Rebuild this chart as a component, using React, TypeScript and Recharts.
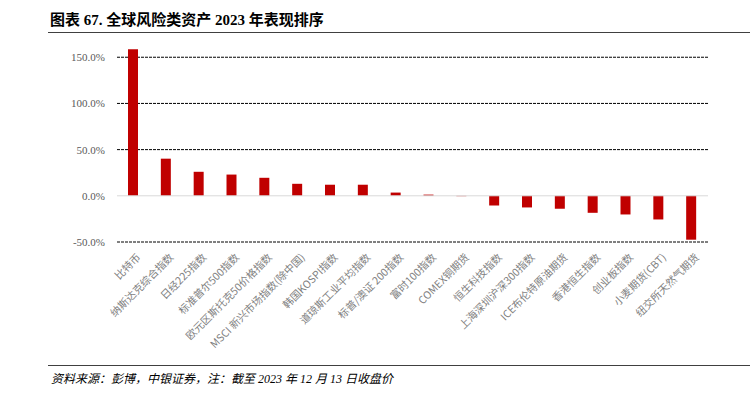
import React from 'react';
import {
  BarChart,
  Bar,
  XAxis,
  YAxis,
  CartesianGrid,
  ReferenceLine
} from 'recharts';

// Asset names (x axis)
const assets = [
  '比特币',
  '纳斯达克综合指数',
  '日经225指数',
  '标准普尔500指数',
  '欧元区斯托克50价格指数',
  'MSCI 新兴市场指数(除中国)',
  '韩国KOSPI指数',
  '道琼斯工业平均指数',
  '标普/澳证 200指数',
  '富时100指数',
  'COMEX铜期货',
  '恒生科技指数',
  '上海深圳沪深300指数',
  'ICE布伦特原油期货',
  '香港恒生指数',
  '创业板指数',
  '小麦期货(CBT)',
  '纽交所天然气期货'
];

// 2023 return, %
const returns2023 = [
  158.7, 40.2, 26.0, 23.0, 19.5, 13.0, 12.0, 12.0, 3.5, 1.3, -0.4,
  -10.5, -12.6, -14.0, -18.4, -20.2, -25.6, -47.5
];

const yTicks = [-50, 0, 50, 100, 150];
const gridValues = [-50, 50, 100, 150];

const chartData = assets.map((name, i) => ({ name, value: returns2023[i] }));

const CJK = "'Noto Sans CJK SC', sans-serif";
const SERIF = "'Liberation Serif', 'Noto Sans CJK SC', serif";

/**
 * Rotated category label
 */
const AssetTick: React.FC<any> = ({ x, y, payload }) => (
  <g transform={`translate(${x + 8},${y + 8})`}>
    <text
      x={0}
      y={0}
      textAnchor="end"
      transform="rotate(-45)"
      fontSize={10.5}
      fontFamily={CJK}
      fill="#7f7f7f"
    >
      {payload.value}
    </text>
  </g>
);

const App: React.FC = () => {
  return (
    <div
      style={{
        position: 'absolute',
        left: 0,
        top: 0,
        width: 750,
        height: 403,
        background: '#fff',
        overflow: 'hidden'
      }}
    >
      <div
        style={{
          position: 'absolute',
          left: 50,
          top: 8,
          fontFamily: SERIF,
          fontWeight: 'bold',
          fontSize: 15,
          color: '#000',
          whiteSpace: 'nowrap'
        }}
      >
        图表 67. 全球风险类资产 2023 年表现排序
      </div>
      <div
        style={{
          position: 'absolute',
          left: 48,
          top: 32,
          width: 702,
          height: 1,
          background: '#404040'
        }}
      />

      <div style={{ position: 'absolute', left: 0, top: 0 }}>
        <BarChart
          width={750}
          height={403}
          data={chartData}
          margin={{ top: 48, right: 42, left: 0, bottom: 0 }}
        >
          <CartesianGrid
            vertical={false}
            horizontalValues={gridValues}
            stroke="#000"
            strokeDasharray="3 1"
          />
          <XAxis
            dataKey="name"
            interval={0}
            axisLine={false}
            tickLine={false}
            height={161}
            tick={<AssetTick />}
          />
          <YAxis
            domain={[-50, 160]}
            ticks={yTicks}
            width={117}
            axisLine={false}
            tickLine={false}
            tickMargin={6}
            tickFormatter={(v: number) => `${v.toFixed(1)}%`}
            tick={{ fontSize: 11, fill: '#595959', fontFamily: SERIF }}
          />
          <ReferenceLine y={0} stroke="#d9d9d9" strokeWidth={1} />
          <Bar dataKey="value" fill="#C00000" barSize={10} isAnimationActive={false} />
        </BarChart>
      </div>

      <div
        style={{
          position: 'absolute',
          left: 48,
          top: 365,
          width: 702,
          height: 1,
          background: '#404040'
        }}
      />
      <div
        style={{
          position: 'absolute',
          left: 51,
          top: 369,
          fontFamily: SERIF,
          fontStyle: 'italic',
          fontSize: 12,
          color: '#000',
          whiteSpace: 'nowrap'
        }}
      >
        资料来源：彭博，中银证券，注：截至 2023 年 12 月 13 日收盘价
      </div>
    </div>
  );
};

export default App;
